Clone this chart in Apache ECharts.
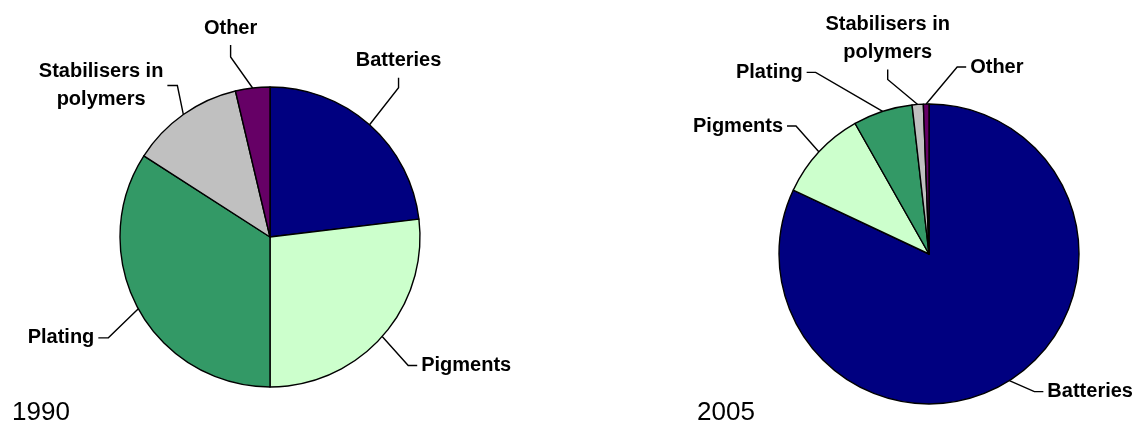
<!DOCTYPE html>
<html>
<head>
  <meta charset="utf-8">
</head>
<body style="margin: 0; background: #fff">
  <div id="container" style="width: 1136px; height: 421px"></div>

  <script type="text/javascript" src="https://cdn.jsdelivr.net/npm/echarts@6/dist/echarts.min.js"></script>
  <script type="text/javascript">
    // uses of the metal, share of total (%)
    var categories = ['Batteries', 'Pigments', 'Plating', 'Stabilisers in\npolymers', 'Other'];
    var share1990 = [23.1, 26.9, 34.1, 12.2, 3.7];
    var share2005 = [82.0, 9.8, 6.4, 1.2, 0.6];
    var years = ['1990', '2005'];

    var colors = ['#000080', '#CCFFCC', '#339966', '#C0C0C0', '#660066'];

    // leader line shape per label: elbow offset from the slice edge, then a short end segment
    var guides1990 = [
      { mode: 'top', d: [29, -37], seg: 10 },
      { mode: 'right', d: [26, 29], seg: 9 },
      { mode: 'left', d: [-30, 29], seg: 10 },
      { mode: 'left', d: [-6, -29], seg: 10 },
      { mode: 'top', d: [-22, -31], seg: 12 }
    ];
    var guides2005 = [
      { mode: 'right', d: [25, 11], seg: 9 },
      { mode: 'left', d: [-23, -26], seg: 9 },
      { mode: 'left', d: [-67, -39], seg: 9 },
      { mode: 'top', d: [-30, -25], seg: 10 },
      { mode: 'right', d: [31, -37], seg: 9 }
    ];

    function placeLabels(guides) {
      return function (params) {
        var g = guides[params.dataIndex];
        var p0 = params.labelLinePoints[0];
        var elbow = [p0[0] + g.d[0], p0[1] + g.d[1]];
        var w = params.labelRect.width;
        var end, x, y, align, vAlign;
        if (g.mode === 'top') {
          end = [elbow[0], elbow[1] - g.seg];
          x = end[0]; y = end[1] - 3; align = 'center'; vAlign = 'bottom';
        } else if (g.mode === 'left') {
          end = [elbow[0] - g.seg, elbow[1]];
          x = end[0] - 4 - w / 2; y = end[1]; align = 'center'; vAlign = 'middle';
        } else {
          end = [elbow[0] + g.seg, elbow[1]];
          x = end[0] + 4; y = end[1]; align = 'left'; vAlign = 'middle';
        }
        return {
          x: x, y: y, align: align, verticalAlign: vAlign,
          labelLinePoints: [p0, elbow, end]
        };
      };
    }

    function pieSeries(values, center, guides) {
      return {
        type: 'pie',
        center: center,
        radius: 150,
        startAngle: 90,
        clockwise: true,
        avoidLabelOverlap: false,
        silent: true,
        data: categories.map(function (name, i) {
          return { name: name, value: values[i], itemStyle: { color: colors[i] } };
        }),
        itemStyle: { borderColor: '#000', borderWidth: 1.4 },
        label: {
          show: true,
          position: 'outside',
          color: '#000',
          fontFamily: 'Liberation Sans',
          fontWeight: 'bold',
          fontSize: 20,
          lineHeight: 28
        },
        labelLine: {
          show: true,
          lineStyle: { color: '#000', width: 1.4 }
        },
        labelLayout: placeLabels(guides)
      };
    }

    var dom = document.getElementById('container');
    var myChart = echarts.init(dom, null, { renderer: 'canvas' });

    var option = {
      animation: false,
      backgroundColor: '#fff',
      graphic: [
        {
          type: 'text', left: 12, top: 400,
          style: { text: years[0], fontFamily: 'Liberation Sans', fontSize: 26, fill: '#000' }
        },
        {
          type: 'text', left: 697, top: 400,
          style: { text: years[1], fontFamily: 'Liberation Sans', fontSize: 26, fill: '#000' }
        }
      ],
      series: [
        pieSeries(share1990, [270, 237], guides1990),
        pieSeries(share2005, [929, 254], guides2005)
      ]
    };

    myChart.setOption(option);
    window.addEventListener('resize', myChart.resize);
  </script>
</body>
</html>
